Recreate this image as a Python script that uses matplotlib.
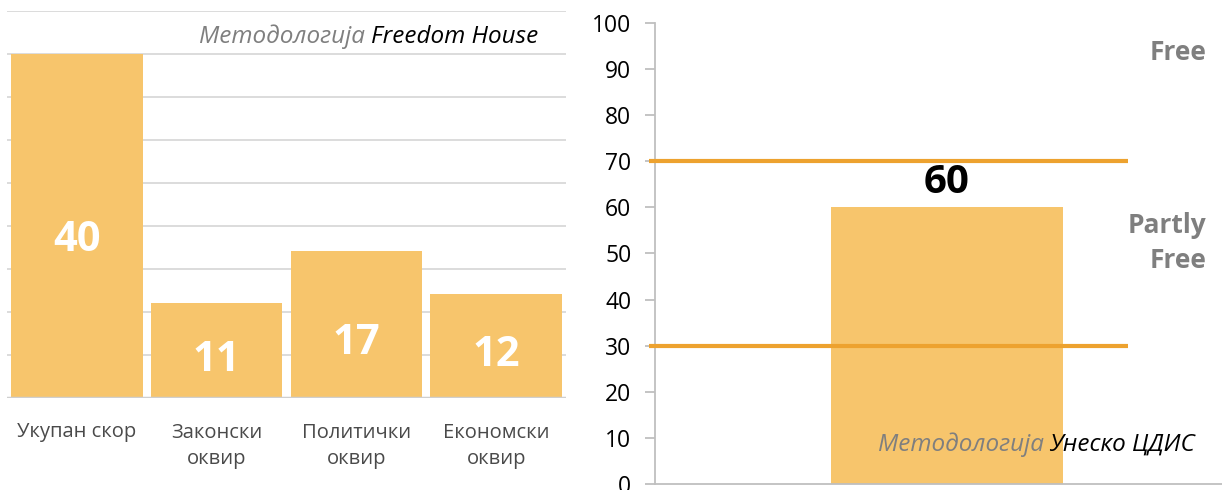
import matplotlib

matplotlib.use("Agg")
import matplotlib.pyplot as plt

plt.rcParams["font.family"] = ["Open Sans", "DejaVu Sans"]

# Freedom House methodology: total score and its three components
fh_categories = ["Укупан скор", "Законски\nоквир", "Политички\nоквир", "Економски\nоквир"]
fh_scores = [40, 11, 17, 12]
fh_label_y = [18.3, 4.3, 6.3, 4.9]          # heights of the in-bar value labels

# UNESCO CDIS methodology: single score against the status thresholds
cdis_category = [0]
cdis_score = [60]
thresholds = [30, 70]

BAR_C = "#F7C56C"
LINE_C = "#EDA22F"
GRID_C = "#D9D9D9"
GRAY_TXT = "#7F7F7F"

W, H = 1222, 490
fig = plt.figure(figsize=(W / 100, H / 100), dpi=100)


def px_axes(x0, y_top, x1, y_bot):
    """Axes placed by pixel edges (y measured from the top)."""
    return fig.add_axes([x0 / W, 1 - y_bot / H, (x1 - x0) / W, (y_bot - y_top) / H])


# ---- left panel -------------------------------------------------------------
ax = px_axes(7, 11, 566, 397.5)
xs = range(len(fh_scores))
ax.bar(xs, fh_scores, width=0.94, color=BAR_C, zorder=2)
ax.set_xlim(-0.5, len(fh_scores) - 0.5)
ax.set_ylim(0, 45)
for y in range(5, 50, 5):
    ax.axhline(y, color=GRID_C, lw=1.3, zorder=1)
ax.axhline(0, color="#CFCFCF", lw=2.5, zorder=3)
for s in ax.spines.values():
    s.set_visible(False)
ax.set_yticks([])
ax.set_xticks(list(xs))
ax.set_xticklabels(fh_categories, fontsize=14.5, color="#4A4A4A", linespacing=1.45)
ax.tick_params(axis="x", length=0, pad=18)
for x, v, ly in zip(xs, fh_scores, fh_label_y):
    ax.text(x, ly, str(v), ha="center", va="center", color="white",
            fontsize=30, fontweight="bold", zorder=4)

t_fh = ax.text(538 / W, 1 - 37 / H, "Freedom House", transform=fig.transFigure,
               ha="right", va="center", fontsize=17.5, style="italic", color="black")
ax.annotate("Методологија", xy=(0, 0.5), xycoords=t_fh, xytext=(-4, 0),
            textcoords="offset points", ha="right", va="center",
            fontsize=17.5, style="italic", color=GRAY_TXT)

# ---- right panel ------------------------------------------------------------
ax2 = px_axes(655, 23, W, 484)
ax2.bar(cdis_category, cdis_score, width=0.397, color=BAR_C, zorder=2)
ax2.set_xlim(-0.5, 0.471)
ax2.set_ylim(0, 100)
for t in thresholds:
    ax2.plot([-0.51, 0.31], [t, t], color=LINE_C, lw=3, zorder=3, clip_on=False,
             solid_capstyle="butt")
for side in ("top", "right"):
    ax2.spines[side].set_visible(False)
for side in ("left", "bottom"):
    ax2.spines[side].set_color("#BFBFBF")
    ax2.spines[side].set_linewidth(1.3)
ax2.set_xticks([])
ax2.set_yticks(range(0, 101, 10))
ax2.tick_params(axis="y", labelsize=16.5, colors="#BFBFBF", labelcolor="black",
                length=7, width=1.3, pad=10)

for x, v in zip(cdis_category, cdis_score):
    ax2.annotate(str(v), xy=(x, v), xytext=(0, 4), textcoords="offset points",
                 ha="center", va="bottom", fontsize=29, fontweight="bold", color="black")

ax2.text(0.445, 93.7, "Free", ha="right", va="center", fontsize=19,
         fontweight="bold", color=GRAY_TXT)
ax2.text(0.445, 52.3, "Partly\nFree", ha="right", va="center", fontsize=19,
         fontweight="bold", color=GRAY_TXT, linespacing=1.35)

t_cd = ax2.text(1195 / W, 1 - 445 / H, "Унеско ЦДИС", transform=fig.transFigure,
                ha="right", va="center", fontsize=17.5, style="italic", color="black")
ax2.annotate("Методологија", xy=(0, 0.5), xycoords=t_cd, xytext=(-4, 0),
             textcoords="offset points", ha="right", va="center",
             fontsize=17.5, style="italic", color=GRAY_TXT)

fig.savefig("out.png", dpi=100)
